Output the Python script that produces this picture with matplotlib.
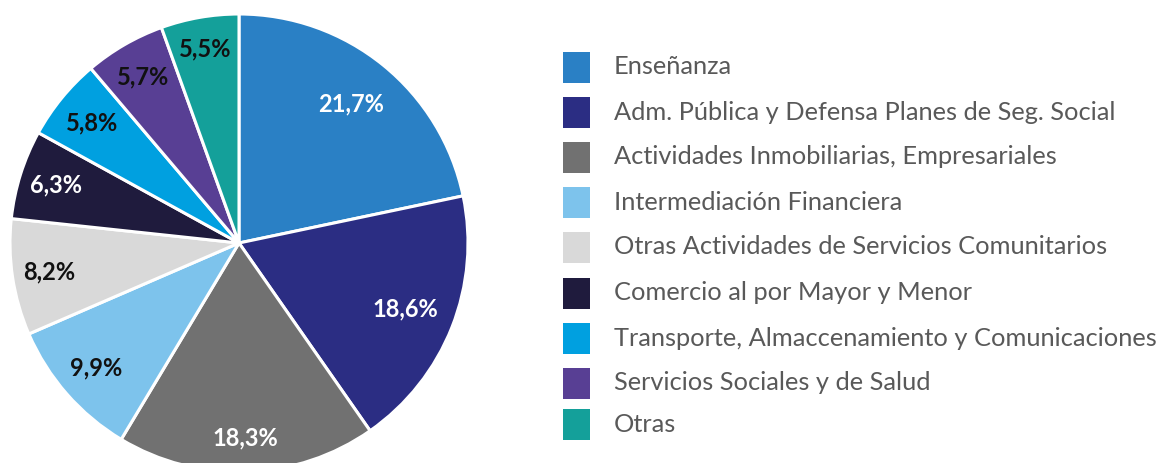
import numpy as np
import matplotlib
matplotlib.use("Agg")
import matplotlib.pyplot as plt
from matplotlib.patches import Rectangle

categories = [
    "Enseñanza",
    "Adm. Pública y Defensa Planes de Seg. Social",
    "Actividades Inmobiliarias, Empresariales",
    "Intermediación Financiera",
    "Otras Actividades de Servicios Comunitarios",
    "Comercio al por Mayor y Menor",
    "Transporte, Almaccenamiento y Comunicaciones",
    "Servicios Sociales y de Salud",
    "Otras",
]
values = [21.7, 18.6, 18.3, 9.9, 8.2, 6.3, 5.8, 5.7, 5.5]
labels = ["21,7%", "18,6%", "18,3%", "9,9%", "8,2%", "6,3%", "5,8%", "5,7%", "5,5%"]
colors = ["#2A80C5", "#2B2D83", "#717171", "#7DC3EC", "#D9D9D9",
          "#1F1B3D", "#00A0E0", "#583F94", "#14A09A"]
label_colors = ["white", "white", "white", "#111111", "#111111",
                "white", "#111111", "#111111", "#111111"]
label_dist = [0.78, 0.78, 0.85, 0.83, 0.84, 0.84, 0.83, 0.84, 0.86]

W, H = 1172, 463
fig = plt.figure(figsize=(W / 100, H / 100), dpi=100)
fig.patch.set_facecolor("white")

cx, cy, r = 239, 243, 229
ax = fig.add_axes([(cx - r) / W, (H - cy - r) / H, 2 * r / W, 2 * r / H])
wedges, _ = ax.pie(values, colors=colors, startangle=90, counterclock=False,
                   radius=1, wedgeprops=dict(edgecolor="white", linewidth=2.2))
ax.set_xlim(-1, 1)
ax.set_ylim(-1, 1)
ax.set_aspect("equal")
ax.axis("off")

for w, lab, col, d in zip(wedges, labels, label_colors, label_dist):
    ang = np.deg2rad((w.theta1 + w.theta2) / 2)
    ax.text(d * np.cos(ang), d * np.sin(ang), lab, ha="center", va="center",
            color=col, fontsize=17, fontweight="bold", family="Lato")

# legend
lax = fig.add_axes([0, 0, 1, 1])
lax.set_xlim(0, W)
lax.set_ylim(H, 0)
lax.axis("off")
row_y = [67, 112, 157, 202, 247, 293, 338, 383, 424]
for yy, cat, col in zip(row_y, categories, colors):
    lax.add_patch(Rectangle((563, yy - 15), 27, 31, facecolor=col, edgecolor="none"))
    lax.text(614, yy, cat, ha="left", va="center", fontsize=18.3,
             color="#595959", family="Lato")

fig.savefig("out.png", dpi=100, facecolor="white")
